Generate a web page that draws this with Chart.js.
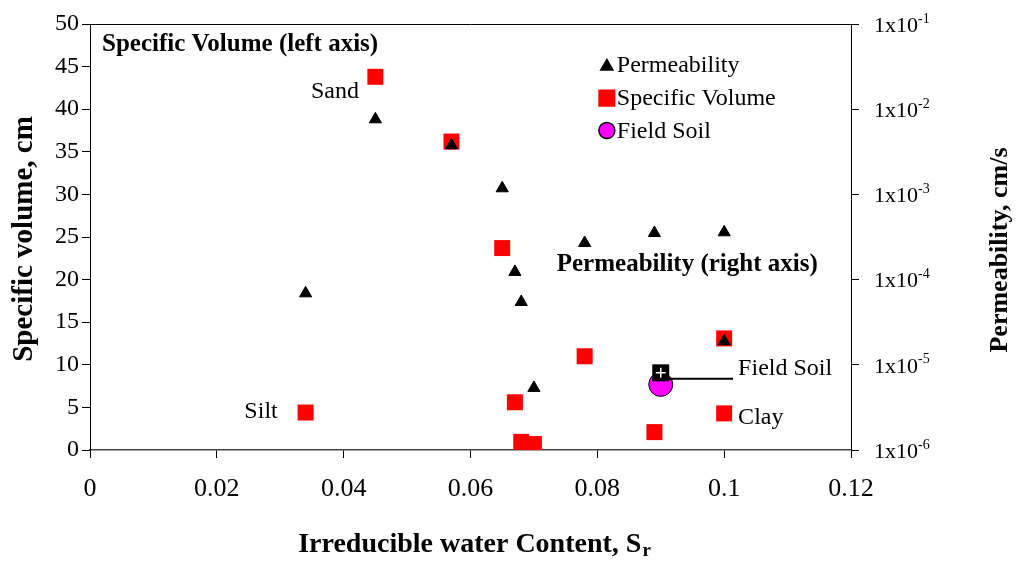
<!DOCTYPE html>
<html><head><meta charset="utf-8">
<script src="https://cdn.jsdelivr.net/npm/chart.js@4/dist/chart.umd.min.js"></script>
<style>html,body{margin:0;padding:0;background:#fff}#wrap{width:1016px;height:565px}</style>
</head><body><div id="wrap"><canvas id="c" width="1016" height="565"></canvas></div>
<script>
// ---- data ----
const waterContent = [0.034, 0.045, 0.057, 0.065, 0.067, 0.068, 0.070, 0.078, 0.089, 0.100, 0.100];
const specificVolume = [4.4, 43.8, 36.2, 23.7, 5.6, 0.96, 0.7, 11.0, 2.1, 13.1, 4.3];
const permeability = [6.9e-5, 7.6e-3, 3.77e-3, 1.18e-3, 1.23e-4, 5.46e-5, 5.35e-6, 2.69e-4, 3.52e-4, 3.59e-4, 1.89e-5];
const fieldSoilWater = [0.090];
const fieldSoilVolume = [7.7];
const fieldSoilPermeability = [8.05e-6];
const xTickValues = [0, 0.02, 0.04, 0.06, 0.08, 0.1, 0.12];
const leftTickValues = [0, 5, 10, 15, 20, 25, 30, 35, 40, 45, 50];
const rightTickExponents = [-6, -5, -4, -3, -2, -1];
const legendLabels = ['Permeability', 'Specific Volume', 'Field Soil'];

const SERIF = '"Liberation Serif", "Times New Roman", serif';
const pts = (xs, ys) => xs.map((x, i) => ({x: x, y: ys[i]}));

// annotation text placed in data coordinates (left axis units)
const notes = [
  {text: 'Specific Volume (left axis)', x: 0.0019, y: 47.6, align: 'left', bold: true, size: 25},
  {text: 'Permeability (right axis)', x: 0.0736, y: 21.8, align: 'left', bold: true, size: 25},
  {text: 'Sand', x: 0.0424, y: 42.0, align: 'right', size: 24},
  {text: 'Silt', x: 0.0296, y: 4.5, align: 'right', size: 24},
  {text: 'Field Soil', x: 0.1022, y: 9.5, align: 'left', size: 24},
  {text: 'Clay', x: 0.1022, y: 3.8, align: 'left', size: 24}
];
const legendPos = {x: 0.0815, y: [45.2, 41.3, 37.5]};
const leaderEnd = {x: 0.1014, y: 8.35};

const decorPlugin = {
  id: 'decor',
  afterDraw(chart) {
    const ctx = chart.ctx, xs = chart.scales.x, ys = chart.scales.y, y2 = chart.scales.y2, ca = chart.chartArea;
    ctx.save();
    // top border
    ctx.strokeStyle = '#000'; ctx.lineWidth = 1;
    ctx.beginPath(); ctx.moveTo(ca.left, ca.top + 0.5); ctx.lineTo(ca.right, ca.top + 0.5); ctx.stroke();
    // leader line for field soil
    const fx = xs.getPixelForValue(fieldSoilWater[0]);
    ctx.lineWidth = 2;
    ctx.beginPath(); ctx.moveTo(fx + 8, ys.getPixelForValue(leaderEnd.y)); ctx.lineTo(xs.getPixelForValue(leaderEnd.x), ys.getPixelForValue(leaderEnd.y)); ctx.stroke();
    // annotations
    ctx.fillStyle = '#000'; ctx.textBaseline = 'middle';
    notes.forEach(n => {
      ctx.font = (n.bold ? 'bold ' : '') + n.size + 'px ' + SERIF;
      ctx.textAlign = n.align;
      ctx.fillText(n.text, xs.getPixelForValue(n.x), ys.getPixelForValue(n.y));
    });
    // legend
    const lx = xs.getPixelForValue(legendPos.x);
    const styles = [
      {pointStyle: 'triangle', radius: 7, color: '#000', border: '#000'},
      {pointStyle: 'rect', radius: 11, color: '#ff0000', border: '#ff0000'},
      {pointStyle: 'circle', radius: 8, color: '#ff00ff', border: '#000'}
    ];
    legendLabels.forEach((t, i) => {
      const ly = ys.getPixelForValue(legendPos.y[i]);
      ctx.fillStyle = styles[i].color; ctx.strokeStyle = styles[i].border; ctx.lineWidth = 1.5;
      Chart.helpers.drawPoint(ctx, {pointStyle: styles[i].pointStyle, radius: styles[i].radius, borderWidth: 1.5}, lx, ly + (i === 0 ? 1.5 : 0));
      ctx.fillStyle = '#000'; ctx.textAlign = 'left';
      ctx.font = '24px ' + SERIF;
      ctx.fillText(t, lx + 10, ly + 1);
    });
    // right axis tick labels 1x10^n
    rightTickExponents.forEach(e => {
      const py = y2.getPixelForValue(Math.pow(10, e));
      const px = y2.left + 23;
      ctx.font = '22px ' + SERIF; ctx.textAlign = 'left'; ctx.textBaseline = 'middle';
      ctx.fillText('1x10', px, py + 2);
      const w = ctx.measureText('1x10').width;
      ctx.font = '14px ' + SERIF;
      ctx.fillText(String(e), px + w, py - 5);
    });
    // axis titles
    ctx.font = 'bold 29px ' + SERIF; ctx.textAlign = 'center'; ctx.textBaseline = 'middle';
    ctx.save(); ctx.translate(25, (ca.top + ca.bottom) / 2 + 2); ctx.rotate(-Math.PI / 2);
    ctx.fillText('Specific volume, cm', 0, 0); ctx.restore();
    ctx.font = 'bold 26px ' + SERIF;
    ctx.save(); ctx.translate(1000, (ca.top + ca.bottom) / 2 + 13); ctx.rotate(-Math.PI / 2);
    ctx.fillText('Permeability, cm/s', 0, 0); ctx.restore();
    // x title with subscript
    ctx.font = 'bold 28px ' + SERIF; ctx.textBaseline = 'alphabetic'; ctx.textAlign = 'left';
    const main = 'Irreducible water Content, S';
    const mw = ctx.measureText(main).width;
    ctx.font = 'bold 19px ' + SERIF;
    const sw = ctx.measureText('r').width;
    const startX = 474 - (mw + sw) / 2;
    ctx.font = 'bold 28px ' + SERIF;
    ctx.fillText(main, startX, 552);
    ctx.font = 'bold 19px ' + SERIF;
    ctx.fillText('r', startX + mw + 1, 556);
    ctx.restore();
  }
};

new Chart(document.getElementById('c'), {
  type: 'scatter',
  data: {
    datasets: [
      {label: 'Permeability', data: pts(waterContent, permeability), yAxisID: 'y2', pointStyle: 'triangle', pointRadius: 7, backgroundColor: '#000', borderColor: '#000', borderWidth: 1, order: 0},
      {label: 'Field Soil permeability cross', data: pts(fieldSoilWater, fieldSoilPermeability), yAxisID: 'y2', pointStyle: 'cross', pointRadius: 5, borderColor: '#fff', borderWidth: 1.5, order: 1},
      {label: 'Field Soil permeability', data: pts(fieldSoilWater, fieldSoilPermeability), yAxisID: 'y2', pointStyle: 'rect', pointRadius: 12, backgroundColor: '#000', borderColor: '#000', borderWidth: 0, order: 2},
      {label: 'Specific Volume', data: pts(waterContent, specificVolume), yAxisID: 'y', pointStyle: 'rect', pointRadius: 11.3, backgroundColor: '#ff0000', borderColor: '#ff0000', borderWidth: 0, order: 3},
      {label: 'Field Soil', data: pts(fieldSoilWater, fieldSoilVolume), yAxisID: 'y', pointStyle: 'circle', pointRadius: 12, backgroundColor: '#ff00ff', borderColor: '#000', borderWidth: 1, order: 4}
    ]
  },
  options: {
    responsive: false, animation: false, devicePixelRatio: 1,
    layout: {padding: {top: 24, left: 0, right: 0, bottom: 0}},
    plugins: {legend: {display: false}, tooltip: {enabled: false}},
    scales: {
      x: {
        type: 'linear', position: 'bottom', min: 0, max: 0.12,
        afterBuildTicks: s => { s.ticks = xTickValues.map(v => ({value: v})); },
        ticks: {color: '#000', font: {family: SERIF, size: 26}, padding: 16, maxRotation: 0, autoSkip: false,
          callback: v => String(+v.toFixed(2))},
        grid: {drawOnChartArea: false, drawTicks: true, tickLength: 8, color: '#000', tickColor: '#000'},
        border: {display: true, color: '#444', width: 1.5},
        afterFit: s => { s.height = 115; }
      },
      y: {
        type: 'linear', position: 'left', min: 0, max: 50,
        afterBuildTicks: s => { s.ticks = leftTickValues.map(v => ({value: v})); },
        ticks: {color: '#000', font: {family: SERIF, size: 24}, padding: 3, autoSkip: false},
        grid: {drawOnChartArea: false, drawTicks: true, tickLength: 8, color: '#000', tickColor: '#000'},
        border: {display: true, color: '#000', width: 1},
        afterFit: s => { s.width = 90; }
      },
      y2: {
        type: 'logarithmic', position: 'right', min: 1e-6, max: 1e-1,
        afterBuildTicks: s => { s.ticks = rightTickExponents.map(e => ({value: Math.pow(10, e)})); },
        ticks: {display: false},
        grid: {drawOnChartArea: false, drawTicks: true, tickLength: 8, color: '#000', tickColor: '#000'},
        border: {display: true, color: '#000', width: 1},
        afterFit: s => { s.width = 165; }
      }
    }
  },
  plugins: [decorPlugin]
});
</script>
</body></html>
